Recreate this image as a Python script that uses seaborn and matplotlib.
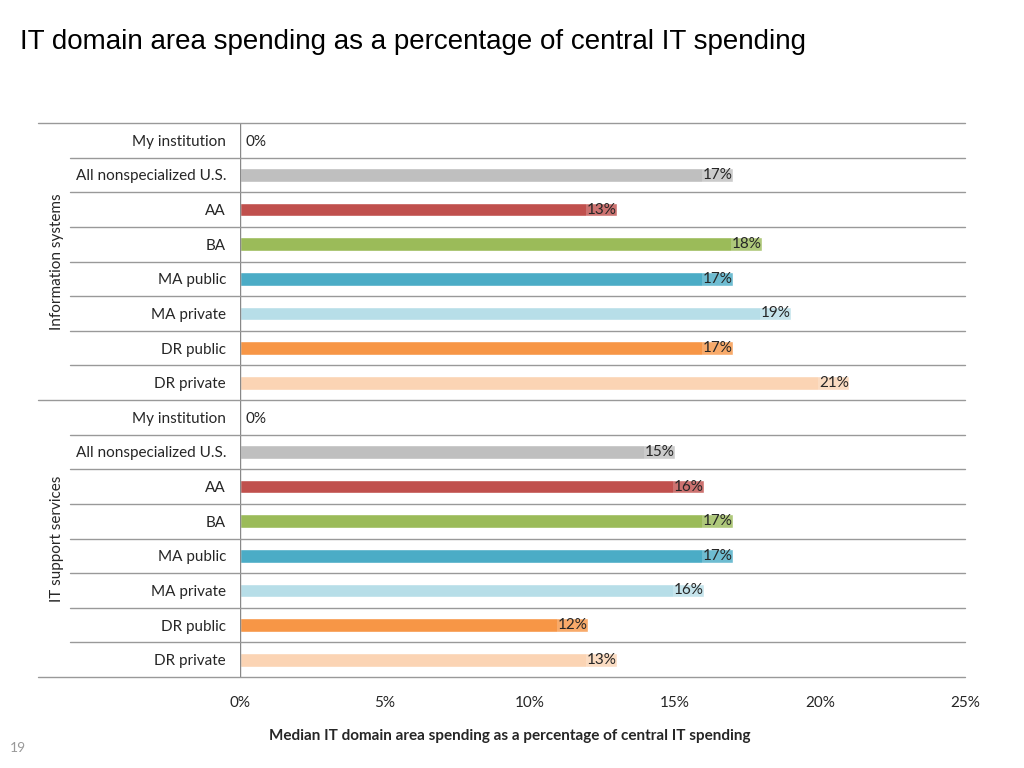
import matplotlib
matplotlib.use("Agg")
import matplotlib.pyplot as plt
import matplotlib.transforms as mtransforms
import seaborn as sns
import pandas as pd

categories = ["My institution", "All nonspecialized U.S.", "AA", "BA", "MA public", "MA private", "DR public", "DR private"]
groups = ["Information systems", "IT support services"]
info_systems = [0, 17, 13, 18, 17, 19, 17, 21]
it_support = [0, 15, 16, 17, 17, 16, 12, 13]
colors = ["#BFBFBF", "#BFBFBF", "#C0504D", "#9BBB59", "#4BACC6", "#B7DEE8", "#F79646", "#FBD4B4"]

rows, vals, cats = [], [], []
for g, series in zip(groups, [info_systems, it_support]):
    for c, v in zip(categories, series):
        rows.append(f"{g}|{c}")
        vals.append(v)
        cats.append(c)
df = pd.DataFrame({"row": rows, "value": vals, "cat": cats})

sns.set_style("white")
plt.rcParams["font.family"] = ["Lato", "DejaVu Sans"]
fig = plt.figure(figsize=(10.24, 7.68), dpi=100)
ax = fig.add_axes([240/1024, 1-677/768, 725/1024, 554/768])
sns.barplot(data=df, y="row", x="value", hue="cat", palette=dict(zip(categories, colors)),
            dodge=False, orient="h", width=0.4, saturation=1, ax=ax, legend=False)
ax.set_xlim(0, 25)
ax.set_ylim(15.5, -0.5)
ax.set_xticks([0, 5, 10, 15, 20, 25])
ax.set_xticklabels([f"{t}%" for t in [0, 5, 10, 15, 20, 25]], fontsize=11)
ax.tick_params(axis="x", length=0, pad=14)
ax.set_yticks(range(16))
ax.set_yticklabels(categories * 2, fontsize=11)
ax.tick_params(axis="y", length=0, pad=10)
ax.set_ylabel("")
ax.set_xlabel("")
for s in ["top", "right", "bottom", "left"]:
    ax.spines[s].set_visible(False)
ax.axvline(0, color="#888888", lw=1)

trans = mtransforms.blended_transform_factory(ax.transAxes, ax.transData)
for b in range(17):
    y = b - 0.5
    x0 = -0.279 if b in (0, 8, 16) else -0.234
    ax.plot([x0, 1], [y, y], transform=trans, color="#999999", lw=1, clip_on=False)

for i, v in enumerate(vals):
    if v == 0:
        ax.text(0.2, i + 0.05, "0%", va="center", ha="left", fontsize=11)
    else:
        ax.text(v, i, f"{v}%", va="center", ha="right", fontsize=11,
                bbox=dict(facecolor="white", alpha=0.2, edgecolor="none", pad=1))

for g, yc in zip(groups, [3.5, 11.5]):
    ax.text(-0.252, yc, g, transform=trans, rotation=90, va="center", ha="center", fontsize=11)

fig.text(510/1024, 1-736/768, "Median IT domain area spending as a percentage of central IT spending",
         fontsize=11, fontweight="bold", ha="center", va="center")
fig.text(20/1024, 1-42/768, "IT domain area spending as a percentage of central IT spending",
         fontsize=20, family=["Liberation Sans", "DejaVu Sans"], va="center", color="black")
fig.text(10/1024, 1-748/768, "19", fontsize=10, color="#999999", va="center")
fig.savefig("out.png", dpi=100)
